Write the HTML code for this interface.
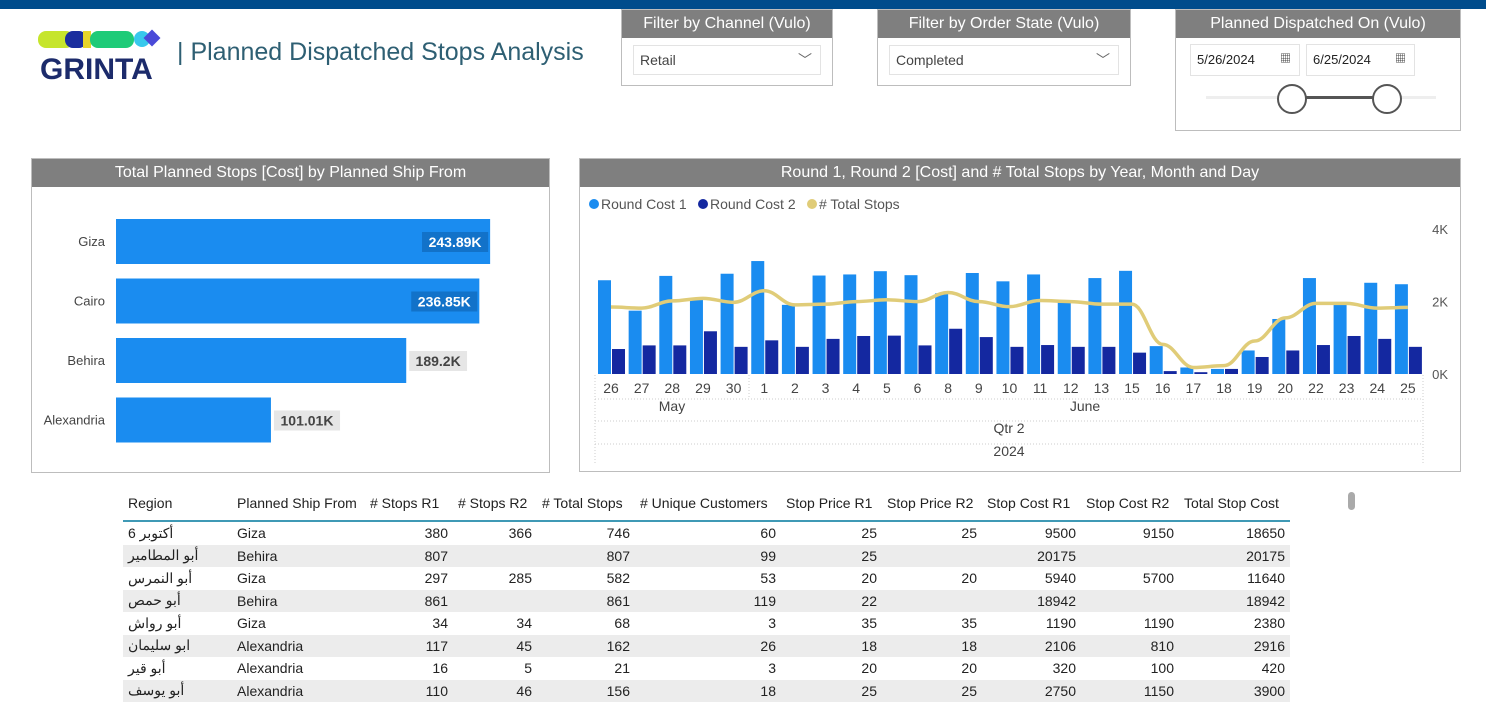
<!DOCTYPE html>
<html><head><meta charset="utf-8"><style>
body{margin:0;width:1486px;height:692px;overflow:hidden;background:#fff;font-family:"Liberation Sans","Noto Sans CJK SC",sans-serif;position:relative}
.abs{position:absolute}
.hdr{position:absolute;left:0;right:0;top:0;height:28px;background:#7f7f7f;color:#fff;font-size:16px;text-align:center;line-height:28px;white-space:nowrap}
.panel{position:absolute;border:1px solid #bdbdbd;box-sizing:border-box;background:#fff}
.dd{position:absolute;border:1px solid #e3e3e3;font-size:14px;color:#444;line-height:29px;padding-left:6px;box-sizing:border-box}
table{border-collapse:collapse;font-size:14px;color:#222;table-layout:fixed}
td,th{height:22.5px;padding:0 5px;white-space:nowrap;overflow:hidden}
th{font-weight:normal;text-align:left;height:34px}
td.n{text-align:right}
tr.g td{background:#ececec}
</style></head><body>
<div class="abs" style="left:0;top:0;width:1486px;height:9px;background:#004c8c"></div>
<div class="abs" style="left:38px;top:29px;width:135px;height:54px">
 <svg width="135" height="54"><rect x="0" y="2" width="36" height="17" rx="8" fill="#c6e52c"/><rect x="27" y="2" width="22" height="17" rx="8" fill="#1a2d9e"/><rect x="45" y="2" width="8" height="17" fill="#e8d52a"/><rect x="52" y="2" width="44" height="17" rx="8" fill="#1ecb78"/><circle cx="104" cy="10" r="8" fill="#38c8ec"/><rect x="108" y="3" width="12" height="12" transform="rotate(45 114 9)" fill="#4a4ad8"/>
 <text x="2" y="50" font-family="Liberation Sans" font-weight="bold" font-size="30" fill="#1c2b6b">GRINTA</text></svg></div>
<div class="abs" style="left:177px;top:38px;font-size:25px;color:#2e5f73;white-space:nowrap">| Planned Dispatched Stops Analysis</div>

<div class="panel" style="left:621px;top:9px;width:212px;height:77px"><div class="hdr">Filter by Channel (Vulo)</div>
 <div class="dd" style="left:11px;top:35px;width:188px;height:30px">Retail<span style="position:absolute;right:8px;color:#666">﹀</span></div></div>
<div class="panel" style="left:877px;top:9px;width:254px;height:77px"><div class="hdr">Filter by Order State (Vulo)</div>
 <div class="dd" style="left:11px;top:35px;width:230px;height:30px">Completed<span style="position:absolute;right:8px;color:#666">﹀</span></div></div>
<div class="panel" style="left:1175px;top:9px;width:286px;height:122px"><div class="hdr">Planned Dispatched On (Vulo)</div>
 <div class="dd" style="left:14px;top:34px;width:110px;height:32px;color:#222;font-size:13px">5/26/2024<span style="position:absolute;right:8px;font-size:11px">▦</span></div>
 <div class="dd" style="left:130px;top:34px;width:109px;height:32px;color:#222;font-size:13px">6/25/2024<span style="position:absolute;right:8px;font-size:11px">▦</span></div>
 <div class="abs" style="left:30px;top:86px;width:230px;height:3px;background:#eee"></div>
 <div class="abs" style="left:115px;top:86px;width:96px;height:3px;background:#555"></div>
 <div class="abs" style="left:101px;top:74px;width:26px;height:26px;border:2px solid #555;border-radius:50%;background:#fff"></div>
 <div class="abs" style="left:196px;top:74px;width:26px;height:26px;border:2px solid #555;border-radius:50%;background:#fff"></div>
</div>

<div class="panel" style="left:31px;top:158px;width:519px;height:315px"><div class="hdr">Total Planned Stops [Cost] by Planned Ship From</div>
<svg id="bar" class="abs" style="left:0;top:0" width="519" height="315"></svg></div>

<div class="panel" style="left:579px;top:158px;width:882px;height:314px"><div class="hdr">Round 1, Round 2 [Cost] and # Total Stops by Year, Month and Day</div>
<svg id="combo" class="abs" style="left:0;top:0" width="882" height="314"></svg></div>

<table class="abs" style="left:123px;top:486px;width:1167px">
<colgroup><col style="width:109px"><col style="width:133px"><col style="width:88px"><col style="width:84px"><col style="width:98px"><col style="width:146px"><col style="width:101px"><col style="width:100px"><col style="width:99px"><col style="width:98px"><col style="width:111px"></colgroup>
<thead><tr style="border-bottom:2px solid #3f99b5"><th>Region</th><th>Planned Ship From</th><th># Stops R1</th><th># Stops R2</th><th># Total Stops</th><th># Unique Customers</th><th>Stop Price R1</th><th>Stop Price R2</th><th>Stop Cost R1</th><th>Stop Cost R2</th><th>Total Stop Cost</th></tr></thead>
<tbody>
<tr><td>أكتوبر 6</td><td>Giza</td><td class="n">380</td><td class="n">366</td><td class="n">746</td><td class="n">60</td><td class="n">25</td><td class="n">25</td><td class="n">9500</td><td class="n">9150</td><td class="n">18650</td></tr>
<tr class="g"><td>أبو المطامير</td><td>Behira</td><td class="n">807</td><td class="n"></td><td class="n">807</td><td class="n">99</td><td class="n">25</td><td class="n"></td><td class="n">20175</td><td class="n"></td><td class="n">20175</td></tr>
<tr><td>أبو النمرس</td><td>Giza</td><td class="n">297</td><td class="n">285</td><td class="n">582</td><td class="n">53</td><td class="n">20</td><td class="n">20</td><td class="n">5940</td><td class="n">5700</td><td class="n">11640</td></tr>
<tr class="g"><td>أبو حمص</td><td>Behira</td><td class="n">861</td><td class="n"></td><td class="n">861</td><td class="n">119</td><td class="n">22</td><td class="n"></td><td class="n">18942</td><td class="n"></td><td class="n">18942</td></tr>
<tr><td>أبو رواش</td><td>Giza</td><td class="n">34</td><td class="n">34</td><td class="n">68</td><td class="n">3</td><td class="n">35</td><td class="n">35</td><td class="n">1190</td><td class="n">1190</td><td class="n">2380</td></tr>
<tr class="g"><td>ابو سليمان</td><td>Alexandria</td><td class="n">117</td><td class="n">45</td><td class="n">162</td><td class="n">26</td><td class="n">18</td><td class="n">18</td><td class="n">2106</td><td class="n">810</td><td class="n">2916</td></tr>
<tr><td>أبو قير</td><td>Alexandria</td><td class="n">16</td><td class="n">5</td><td class="n">21</td><td class="n">3</td><td class="n">20</td><td class="n">20</td><td class="n">320</td><td class="n">100</td><td class="n">420</td></tr>
<tr class="g"><td>أبو يوسف</td><td>Alexandria</td><td class="n">110</td><td class="n">46</td><td class="n">156</td><td class="n">18</td><td class="n">25</td><td class="n">25</td><td class="n">2750</td><td class="n">1150</td><td class="n">3900</td></tr>
</tbody></table>
<div class="abs" style="left:1348px;top:492px;width:7px;height:18px;border-radius:4px;background:#aaa"></div>

<script>
const NS="http://www.w3.org/2000/svg";
function mk(p,t,a){const e=document.createElementNS(NS,t);for(const k in a)e.setAttribute(k,a[k]);p.appendChild(e);return e;}
// Bar chart
const shipFrom=["Giza","Cairo","Behira","Alexandria"];
const shipCost=[243.89,236.85,189.2,101.01];
const shipLabels=["243.89K","236.85K","189.2K","101.01K"];
const bs=document.getElementById('bar');
const bx=v=>84+v*1.534;
shipFrom.forEach((c,i)=>{
 const y=60+i*59.5;
 let t=mk(bs,'text',{x:73,y:y+27,'text-anchor':'end','font-size':13,fill:'#444','font-family':'Liberation Sans, sans-serif'});t.textContent=c;
 
 
 const r=mk(bs,'rect',{x:84,y:y,width:bx(shipCost[i])-84,height:45,fill:'#1a8cf0'});
 
 
 const inside=i<2, w=shipLabels[i].length*8.3+8;
 const lx=inside?bx(shipCost[i])-w-2:bx(shipCost[i])+3;
 const lb=mk(bs,'rect',{x:lx,y:y+13,width:w,height:20,fill:inside?'#1272c9':'#e6e6e6'});
 
 
 t=mk(bs,'text',{x:lx+w/2,y:y+28,'text-anchor':'middle','font-size':14,'font-weight':'bold',fill:inside?'#fff':'#444','font-family':'Liberation Sans, sans-serif'});t.textContent=shipLabels[i];
 
 
});
// Combo chart
const days=["26","27","28","29","30","1","2","3","4","5","6","8","9","10","11","12","13","15","16","17","18","19","20","22","23","24","25"];
const round1=[2.59,1.75,2.71,2.05,2.77,3.12,1.91,2.72,2.75,2.84,2.73,2.23,2.79,2.56,2.75,2.0,2.65,2.85,0.77,0.18,0.14,0.65,1.52,2.65,1.91,2.52,2.48];
const round2=[0.69,0.79,0.79,1.18,0.75,0.93,0.75,0.97,1.05,1.06,0.79,1.25,1.02,0.75,0.8,0.75,0.75,0.59,0.08,0.05,0.14,0.47,0.65,0.8,1.05,0.97,0.75];
const totalStops=[1.85,1.82,2.02,2.09,1.98,2.3,1.91,1.93,2.0,2.05,2.0,2.25,2.0,1.86,2.03,2.0,1.93,1.93,0.82,0.18,0.23,0.91,1.55,1.95,1.95,1.82,1.84];
const yTicks=[0,2,4];
const cs=document.getElementById('combo');
const OX=579,OY=158;
const xs=i=>610+i*30.65-OX, ys=v=>373-v*36.2-OY;
const F='Liberation Sans, sans-serif';
[["#1a8cf0","Round Cost 1",8],["#1428a0","Round Cost 2",117],["#e0cc78","# Total Stops",226]].forEach(l=>{
 const c=mk(cs,'circle',{cx:l[2]+6,cy:45,r:5,fill:l[0]});
 
 
 const t=mk(cs,'text',{x:l[2]+13,y:50,'font-size':14,fill:'#555','font-family':F});t.textContent=l[1];
 
 
});
yTicks.forEach(v=>{const t=mk(cs,'text',{x:868,y:ys(v)+5,'text-anchor':'end','font-size':13,fill:'#555','font-family':F});t.textContent=v+'K';
 
 });
days.forEach((d,i)=>{
 const x=xs(i);
 let r=mk(cs,'rect',{x:x-13,y:ys(round1[i]),width:13,height:ys(0)-ys(round1[i]),fill:'#1a8cf0'});
 
 
 r=mk(cs,'rect',{x:x+1,y:ys(round2[i]),width:13,height:ys(0)-ys(round2[i]),fill:'#1428a0'});
 
 
 const t=mk(cs,'text',{x:x,y:234,'text-anchor':'middle','font-size':14,fill:'#444','font-family':F});t.textContent=d;
 
 
});
let p='';totalStops.forEach((v,i)=>{const x=xs(i),y=ys(v);if(i==0)p='M'+x+' '+y;else{const px=xs(i-1),py=ys(totalStops[i-1]);p+=' C'+(px+12)+' '+py+' '+(x-12)+' '+y+' '+x+' '+y;}});
const ln=mk(cs,'path',{d:p,fill:'none',stroke:'#e0cc78','stroke-width':3.5});


const dash={stroke:'#ccc','stroke-dasharray':'1 2','stroke-width':1};
[[15,216,15,290],[169,216,169,240],[15,240,843,240],[15,262,843,262],[15,285,843,285],[843,216,843,305],[15,240,15,305]].forEach(a=>mk(cs,'line',Object.assign({x1:a[0],y1:a[1],x2:a[2],y2:a[3]},dash)));
[["May",92,252],["June",505,252],["Qtr 2",429,274],["2024",429,297]].forEach(a=>{const t=mk(cs,'text',{x:a[1],y:a[2],'text-anchor':'middle','font-size':14,fill:'#444','font-family':F});t.textContent=a[0];
 
 });
</script>
</body></html>
